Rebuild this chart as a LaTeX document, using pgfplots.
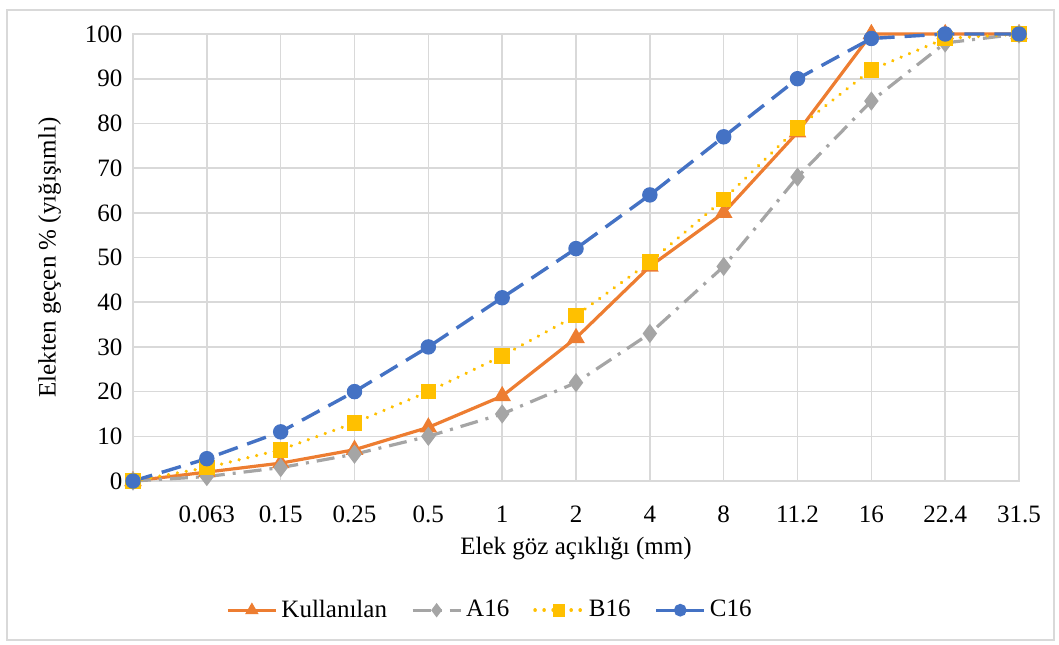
\documentclass[border=0pt]{standalone}
\usepackage{pgfplots}
\pgfplotsset{compat=1.18}
\usepackage{fontspec}
\setmainfont{Liberation Serif}
\definecolor{cK}{HTML}{ED7D31}
\definecolor{cA}{HTML}{A5A5A5}
\definecolor{cB}{HTML}{FFC000}
\definecolor{cC}{HTML}{4472C4}
\definecolor{gridc}{HTML}{D9D9D9}
\begin{document}
\fontsize{12.5}{15}\selectfont
\begin{tikzpicture}
\begin{axis}[
  scale only axis,
  width=443pt, height=223.5pt,
  xmin=0, xmax=12, ymin=0, ymax=100,
  xtick={0,...,12},
  xticklabels={,0.063,0.15,0.25,0.5,1,2,4,8,11.2,16,22.4,31.5},
  ytick={0,10,...,100},
  grid=major,
  grid style={gridc, line width=0.8pt},
  axis line style={gridc, line width=0.8pt},
  major tick length=0pt,
  tick style={draw=none},
  /pgf/number format/assume math mode=true,
  ticklabel style={font=\fontsize{12.5}{15}\selectfont},
  xticklabel style={yshift=-8pt},
  yticklabel style={xshift=-1pt},
  xlabel={Elek göz açıklığı  (mm)},
  ylabel={Elekten geçen \% (yığışımlı)},
  xlabel style={at={(axis description cs:0.5,-0.152)}, anchor=center},
  ylabel style={at={(axis description cs:-0.094,0.5)}, anchor=center, rotate=0},
  clip=false,
  legend columns=4,
  legend style={at={(axis description cs:0.404,-0.289)}, anchor=center, draw=none,
    /tikz/every even column/.append style={column sep=10pt}, font=\fontsize{12.5}{15}\selectfont},
  legend image code/.code={\draw[mark repeat=2,mark phase=2, mark size=2.3pt] plot coordinates {(0pt,0pt)(12pt,0pt)(24pt,0pt)};},
]
\addplot[cK, line width=1.6pt, mark=triangle*, mark size=3.5pt, mark options={solid}]
  coordinates {(0,0)(1,2)(2,4)(3,7)(4,12)(5,19)(6,32)(7,48)(8,60)(9,78)(10,100)(11,100)(12,100)};
\addlegendentry{Kullanılan}
\addplot[cA, line width=1.6pt, dash pattern=on 9pt off 4pt on 1.5pt off 4pt, mark=diamond*, mark size=3.5pt, mark options={solid}]
  coordinates {(0,0)(1,1)(2,3)(3,6)(4,10)(5,15)(6,22)(7,33)(8,48)(9,68)(10,85)(11,98)(12,100)};
\addlegendentry{A16}
\addplot[cB, line width=1.8pt, line cap=round, dash pattern=on 0.01pt off 4.5pt, mark=square*, mark size=3pt, mark options={solid}]
  coordinates {(0,0)(1,3)(2,7)(3,13)(4,20)(5,28)(6,37)(7,49)(8,63)(9,79)(10,92)(11,99)(12,100)};
\addlegendentry{B16}
\addplot[cC, line width=1.7pt, dash pattern=on 10pt off 5pt, mark=*, mark size=3pt, mark options={solid}]
  coordinates {(0,0)(1,5)(2,11)(3,20)(4,30)(5,41)(6,52)(7,64)(8,77)(9,90)(10,99)(11,100)(12,100)};
\addlegendentry{C16}
\draw[gridc, line width=0.8pt] (axis description cs:-0.142,1.0537) rectangle (axis description cs:1.0395,-0.356);
\path (axis description cs:-0.1501,1.0761) rectangle (axis description cs:1.0451,-0.3647);
\end{axis}
\end{tikzpicture}
\end{document}
